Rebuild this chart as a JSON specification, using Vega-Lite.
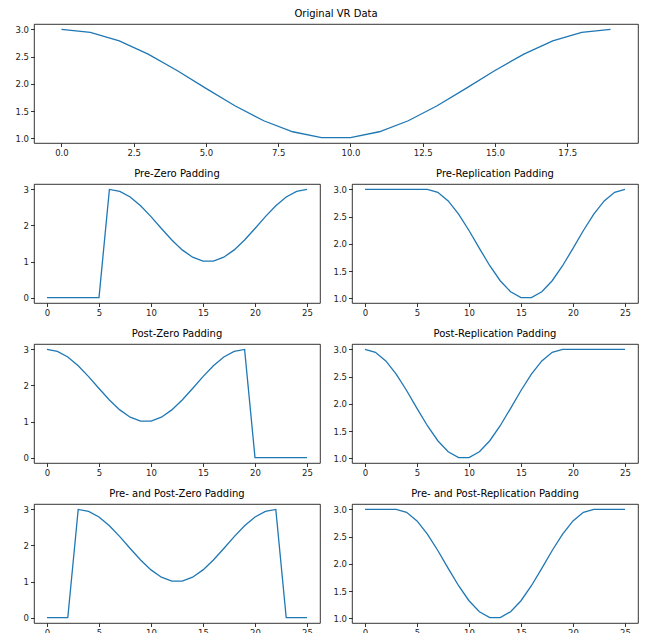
{
  "$schema": "https://vega.github.io/schema/vega-lite/v6.json",
  "background": "white",
  "padding": {"left": 12, "top": 8, "right": 5, "bottom": 0},
  "spacing": 10,
  "datasets": {
    "orig": [
      {"x": 0, "y": 3.0}, {"x": 1, "y": 2.9458}, {"x": 2, "y": 2.7891}, {"x": 3, "y": 2.547}, {"x": 4, "y": 2.2455},
      {"x": 5, "y": 1.9174}, {"x": 6, "y": 1.5983}, {"x": 7, "y": 1.3227}, {"x": 8, "y": 1.1205}, {"x": 9, "y": 1.0136},
      {"x": 10, "y": 1.0136}, {"x": 11, "y": 1.1205}, {"x": 12, "y": 1.3227}, {"x": 13, "y": 1.5983}, {"x": 14, "y": 1.9174},
      {"x": 15, "y": 2.2455}, {"x": 16, "y": 2.547}, {"x": 17, "y": 2.7891}, {"x": 18, "y": 2.9458}, {"x": 19, "y": 3.0}
    ],
    "preZero": [
      {"x": 0, "y": 0}, {"x": 1, "y": 0}, {"x": 2, "y": 0}, {"x": 3, "y": 0}, {"x": 4, "y": 0}, {"x": 5, "y": 0},
      {"x": 6, "y": 3.0}, {"x": 7, "y": 2.9458}, {"x": 8, "y": 2.7891}, {"x": 9, "y": 2.547}, {"x": 10, "y": 2.2455},
      {"x": 11, "y": 1.9174}, {"x": 12, "y": 1.5983}, {"x": 13, "y": 1.3227}, {"x": 14, "y": 1.1205}, {"x": 15, "y": 1.0136},
      {"x": 16, "y": 1.0136}, {"x": 17, "y": 1.1205}, {"x": 18, "y": 1.3227}, {"x": 19, "y": 1.5983}, {"x": 20, "y": 1.9174},
      {"x": 21, "y": 2.2455}, {"x": 22, "y": 2.547}, {"x": 23, "y": 2.7891}, {"x": 24, "y": 2.9458}, {"x": 25, "y": 3.0}
    ],
    "preRep": [
      {"x": 0, "y": 3.0}, {"x": 1, "y": 3.0}, {"x": 2, "y": 3.0}, {"x": 3, "y": 3.0}, {"x": 4, "y": 3.0}, {"x": 5, "y": 3.0},
      {"x": 6, "y": 3.0}, {"x": 7, "y": 2.9458}, {"x": 8, "y": 2.7891}, {"x": 9, "y": 2.547}, {"x": 10, "y": 2.2455},
      {"x": 11, "y": 1.9174}, {"x": 12, "y": 1.5983}, {"x": 13, "y": 1.3227}, {"x": 14, "y": 1.1205}, {"x": 15, "y": 1.0136},
      {"x": 16, "y": 1.0136}, {"x": 17, "y": 1.1205}, {"x": 18, "y": 1.3227}, {"x": 19, "y": 1.5983}, {"x": 20, "y": 1.9174},
      {"x": 21, "y": 2.2455}, {"x": 22, "y": 2.547}, {"x": 23, "y": 2.7891}, {"x": 24, "y": 2.9458}, {"x": 25, "y": 3.0}
    ],
    "postZero": [
      {"x": 0, "y": 3.0}, {"x": 1, "y": 2.9458}, {"x": 2, "y": 2.7891}, {"x": 3, "y": 2.547}, {"x": 4, "y": 2.2455},
      {"x": 5, "y": 1.9174}, {"x": 6, "y": 1.5983}, {"x": 7, "y": 1.3227}, {"x": 8, "y": 1.1205}, {"x": 9, "y": 1.0136},
      {"x": 10, "y": 1.0136}, {"x": 11, "y": 1.1205}, {"x": 12, "y": 1.3227}, {"x": 13, "y": 1.5983}, {"x": 14, "y": 1.9174},
      {"x": 15, "y": 2.2455}, {"x": 16, "y": 2.547}, {"x": 17, "y": 2.7891}, {"x": 18, "y": 2.9458}, {"x": 19, "y": 3.0},
      {"x": 20, "y": 0}, {"x": 21, "y": 0}, {"x": 22, "y": 0}, {"x": 23, "y": 0}, {"x": 24, "y": 0}, {"x": 25, "y": 0}
    ],
    "postRep": [
      {"x": 0, "y": 3.0}, {"x": 1, "y": 2.9458}, {"x": 2, "y": 2.7891}, {"x": 3, "y": 2.547}, {"x": 4, "y": 2.2455},
      {"x": 5, "y": 1.9174}, {"x": 6, "y": 1.5983}, {"x": 7, "y": 1.3227}, {"x": 8, "y": 1.1205}, {"x": 9, "y": 1.0136},
      {"x": 10, "y": 1.0136}, {"x": 11, "y": 1.1205}, {"x": 12, "y": 1.3227}, {"x": 13, "y": 1.5983}, {"x": 14, "y": 1.9174},
      {"x": 15, "y": 2.2455}, {"x": 16, "y": 2.547}, {"x": 17, "y": 2.7891}, {"x": 18, "y": 2.9458}, {"x": 19, "y": 3.0},
      {"x": 20, "y": 3.0}, {"x": 21, "y": 3.0}, {"x": 22, "y": 3.0}, {"x": 23, "y": 3.0}, {"x": 24, "y": 3.0}, {"x": 25, "y": 3.0}
    ],
    "bothZero": [
      {"x": 0, "y": 0}, {"x": 1, "y": 0}, {"x": 2, "y": 0},
      {"x": 3, "y": 3.0}, {"x": 4, "y": 2.9458}, {"x": 5, "y": 2.7891}, {"x": 6, "y": 2.547}, {"x": 7, "y": 2.2455},
      {"x": 8, "y": 1.9174}, {"x": 9, "y": 1.5983}, {"x": 10, "y": 1.3227}, {"x": 11, "y": 1.1205}, {"x": 12, "y": 1.0136},
      {"x": 13, "y": 1.0136}, {"x": 14, "y": 1.1205}, {"x": 15, "y": 1.3227}, {"x": 16, "y": 1.5983}, {"x": 17, "y": 1.9174},
      {"x": 18, "y": 2.2455}, {"x": 19, "y": 2.547}, {"x": 20, "y": 2.7891}, {"x": 21, "y": 2.9458}, {"x": 22, "y": 3.0},
      {"x": 23, "y": 0}, {"x": 24, "y": 0}, {"x": 25, "y": 0}
    ],
    "bothRep": [
      {"x": 0, "y": 3.0}, {"x": 1, "y": 3.0}, {"x": 2, "y": 3.0},
      {"x": 3, "y": 3.0}, {"x": 4, "y": 2.9458}, {"x": 5, "y": 2.7891}, {"x": 6, "y": 2.547}, {"x": 7, "y": 2.2455},
      {"x": 8, "y": 1.9174}, {"x": 9, "y": 1.5983}, {"x": 10, "y": 1.3227}, {"x": 11, "y": 1.1205}, {"x": 12, "y": 1.0136},
      {"x": 13, "y": 1.0136}, {"x": 14, "y": 1.1205}, {"x": 15, "y": 1.3227}, {"x": 16, "y": 1.5983}, {"x": 17, "y": 1.9174},
      {"x": 18, "y": 2.2455}, {"x": 19, "y": 2.547}, {"x": 20, "y": 2.7891}, {"x": 21, "y": 2.9458}, {"x": 22, "y": 3.0},
      {"x": 23, "y": 3.0}, {"x": 24, "y": 3.0}, {"x": 25, "y": 3.0}
    ]
  },
  "vconcat": [
    {
      "title": "Original VR Data",
      "width": 604, "height": 119,
      "data": {"name": "orig"},
      "mark": {"type": "line", "color": "#1f77b4", "strokeWidth": 1.3},
      "encoding": {
        "x": {"field": "x", "type": "quantitative", "scale": {"domain": [-0.95, 19.95], "nice": false, "zero": false}, "axis": {"values": [0, 2.5, 5, 7.5, 10, 12.5, 15, 17.5], "format": ".1f", "title": null}},
        "y": {"field": "y", "type": "quantitative", "scale": {"domain": [0.914, 3.099], "nice": false, "zero": false}, "axis": {"values": [1, 1.5, 2, 2.5, 3], "format": ".1f", "title": null, "minExtent": 21}}
      }
    },
    {
      "bounds": "flush",
      "spacing": 32,
      "hconcat": [
        {
          "title": "Pre-Zero Padding",
          "width": 286, "height": 119,
          "data": {"name": "preZero"},
          "mark": {"type": "line", "color": "#1f77b4", "strokeWidth": 1.3},
          "encoding": {
            "x": {"field": "x", "type": "quantitative", "scale": {"domain": [-1.25, 26.25], "nice": false, "zero": false}, "axis": {"values": [0, 5, 10, 15, 20, 25], "format": "d", "title": null}},
            "y": {"field": "y", "type": "quantitative", "scale": {"domain": [-0.15, 3.15], "nice": false, "zero": false}, "axis": {"values": [0, 1, 2, 3], "format": "d", "title": null, "minExtent": 21}}
          }
        },
        {
          "title": "Pre-Replication Padding",
          "width": 286, "height": 119,
          "data": {"name": "preRep"},
          "mark": {"type": "line", "color": "#1f77b4", "strokeWidth": 1.3},
          "encoding": {
            "x": {"field": "x", "type": "quantitative", "scale": {"domain": [-1.25, 26.25], "nice": false, "zero": false}, "axis": {"values": [0, 5, 10, 15, 20, 25], "format": "d", "title": null}},
            "y": {"field": "y", "type": "quantitative", "scale": {"domain": [0.914, 3.099], "nice": false, "zero": false}, "axis": {"values": [1, 1.5, 2, 2.5, 3], "format": ".1f", "title": null, "minExtent": 21}}
          }
        }
      ]
    },
    {
      "bounds": "flush",
      "spacing": 32,
      "hconcat": [
        {
          "title": "Post-Zero Padding",
          "width": 286, "height": 119,
          "data": {"name": "postZero"},
          "mark": {"type": "line", "color": "#1f77b4", "strokeWidth": 1.3},
          "encoding": {
            "x": {"field": "x", "type": "quantitative", "scale": {"domain": [-1.25, 26.25], "nice": false, "zero": false}, "axis": {"values": [0, 5, 10, 15, 20, 25], "format": "d", "title": null}},
            "y": {"field": "y", "type": "quantitative", "scale": {"domain": [-0.15, 3.15], "nice": false, "zero": false}, "axis": {"values": [0, 1, 2, 3], "format": "d", "title": null, "minExtent": 21}}
          }
        },
        {
          "title": "Post-Replication Padding",
          "width": 286, "height": 119,
          "data": {"name": "postRep"},
          "mark": {"type": "line", "color": "#1f77b4", "strokeWidth": 1.3},
          "encoding": {
            "x": {"field": "x", "type": "quantitative", "scale": {"domain": [-1.25, 26.25], "nice": false, "zero": false}, "axis": {"values": [0, 5, 10, 15, 20, 25], "format": "d", "title": null}},
            "y": {"field": "y", "type": "quantitative", "scale": {"domain": [0.914, 3.099], "nice": false, "zero": false}, "axis": {"values": [1, 1.5, 2, 2.5, 3], "format": ".1f", "title": null, "minExtent": 21}}
          }
        }
      ]
    },
    {
      "bounds": "flush",
      "spacing": 32,
      "hconcat": [
        {
          "title": "Pre- and Post-Zero Padding",
          "width": 286, "height": 119,
          "data": {"name": "bothZero"},
          "mark": {"type": "line", "color": "#1f77b4", "strokeWidth": 1.3},
          "encoding": {
            "x": {"field": "x", "type": "quantitative", "scale": {"domain": [-1.25, 26.25], "nice": false, "zero": false}, "axis": {"values": [0, 5, 10, 15, 20, 25], "format": "d", "title": null}},
            "y": {"field": "y", "type": "quantitative", "scale": {"domain": [-0.15, 3.15], "nice": false, "zero": false}, "axis": {"values": [0, 1, 2, 3], "format": "d", "title": null, "minExtent": 21}}
          }
        },
        {
          "title": "Pre- and Post-Replication Padding",
          "width": 286, "height": 119,
          "data": {"name": "bothRep"},
          "mark": {"type": "line", "color": "#1f77b4", "strokeWidth": 1.3},
          "encoding": {
            "x": {"field": "x", "type": "quantitative", "scale": {"domain": [-1.25, 26.25], "nice": false, "zero": false}, "axis": {"values": [0, 5, 10, 15, 20, 25], "format": "d", "title": null}},
            "y": {"field": "y", "type": "quantitative", "scale": {"domain": [0.914, 3.099], "nice": false, "zero": false}, "axis": {"values": [1, 1.5, 2, 2.5, 3], "format": ".1f", "title": null, "minExtent": 21}}
          }
        }
      ]
    }
  ],
  "config": {
    "font": "DejaVu Sans",
    "view": {"stroke": "#000", "strokeWidth": 0.8},
    "axis": {"domain": false, "grid": false, "tickColor": "#000", "tickSize": 3.5, "tickWidth": 0.8, "labelFontSize": 8.5, "labelColor": "#222", "labelPadding": 2, "labelFont": "DejaVu Sans", "labelFlush": false},
    "title": {"fontSize": 10, "fontWeight": "normal", "font": "DejaVu Sans", "color": "#000", "offset": 5}
  }
}
